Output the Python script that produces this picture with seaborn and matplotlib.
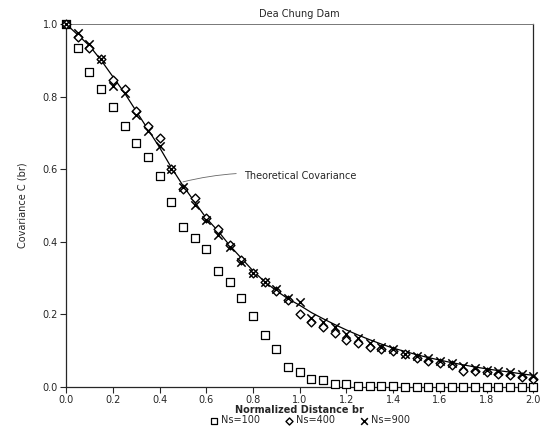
import numpy as np
import pandas as pd
import matplotlib
matplotlib.use("Agg")
import matplotlib.pyplot as plt
import seaborn as sns

distance = [round(0.05 * i, 2) for i in range(41)]

theoretical = [1.0, 0.97, 0.94, 0.90, 0.855, 0.81, 0.76, 0.71, 0.66, 0.605,
               0.555, 0.51, 0.465, 0.43, 0.39, 0.355, 0.32, 0.29, 0.265, 0.243,
               0.225, 0.205, 0.188, 0.172, 0.157, 0.143, 0.130, 0.118, 0.107, 0.098,
               0.089, 0.081, 0.074, 0.067, 0.061, 0.055, 0.050, 0.045, 0.041, 0.036, 0.032]

ns100 = [1.0, 0.935, 0.867, 0.82, 0.77, 0.72, 0.672, 0.633, 0.58, 0.51,
         0.44, 0.41, 0.38, 0.32, 0.29, 0.245, 0.195, 0.143, 0.105, 0.056,
         0.042, 0.022, 0.02, 0.009, 0.008, 0.004, 0.003, 0.002, 0.002, 0.001,
         0.001, 0.001, 0.001, 0.0, 0.0, 0.0, 0.0, 0.0, 0.0, 0.0, 0.0]

ns400 = [1.0, 0.965, 0.935, 0.905, 0.845, 0.82, 0.76, 0.72, 0.685, 0.60,
         0.545, 0.52, 0.465, 0.435, 0.39, 0.35, 0.315, 0.29, 0.265, 0.24,
         0.20, 0.18, 0.165, 0.15, 0.13, 0.12, 0.11, 0.105, 0.10, 0.09,
         0.08, 0.072, 0.065, 0.06, 0.045, 0.045, 0.04, 0.037, 0.033, 0.028, 0.022]

ns900 = [1.0, 0.975, 0.945, 0.905, 0.83, 0.81, 0.75, 0.705, 0.665, 0.60,
         0.55, 0.50, 0.46, 0.42, 0.385, 0.345, 0.315, 0.29, 0.27, 0.245,
         0.235, 0.19, 0.18, 0.165, 0.145, 0.135, 0.12, 0.11, 0.105, 0.09,
         0.085, 0.08, 0.072, 0.065, 0.058, 0.052, 0.048, 0.044, 0.04, 0.035, 0.03]

xticks = [0.0, 0.2, 0.4, 0.6, 0.8, 1.0, 1.2, 1.4, 1.6, 1.8, 2.0]
yticks = [0.0, 0.2, 0.4, 0.6, 0.8, 1.0]

sns.set_style("ticks")
plt.rcParams['font.family'] = ['DejaVu Sans']

fig = plt.figure(figsize=(5.42, 4.29), dpi=100)
ax = fig.add_axes([0.122, 0.098, 0.862, 0.846])

df = pd.DataFrame({"x": distance, "theory": theoretical,
                   "n100": ns100, "n400": ns400, "n900": ns900})

sns.lineplot(data=df, x="x", y="theory", ax=ax, color="black", linewidth=0.9)
sns.scatterplot(data=df, x="x", y="n100", ax=ax, marker="s", s=38,
                facecolors="white", edgecolor="black", linewidth=0.9,
                label="Ns=100", zorder=3, clip_on=False)
sns.scatterplot(data=df, x="x", y="n400", ax=ax, marker="D", s=20,
                facecolors="white", edgecolor="black", linewidth=1.0,
                label="Ns=400", zorder=4, clip_on=False)
sns.scatterplot(data=df, x="x", y="n900", ax=ax, marker="x", s=36,
                color="black", linewidth=1.1, label="Ns=900", zorder=5,
                clip_on=False)

ax.set_xlim(0, 2.0)
ax.set_ylim(0, 1.0)
ax.set_xticks(xticks)
ax.set_yticks(yticks)
ax.set_xticklabels([f"{v:.1f}" for v in xticks], fontsize=7)
ax.set_yticklabels([f"{v:.1f}" for v in yticks], fontsize=7)
ax.tick_params(axis="both", direction="out", length=4, width=0.8, pad=2)

for side in ["top", "right", "left", "bottom"]:
    ax.spines[side].set_visible(True)
    ax.spines[side].set_linewidth(0.9)
ax.spines["top"].set_color("#777777")
ax.spines["top"].set_linewidth(0.7)

ax.set_title("Dea Chung Dam", fontsize=7, pad=5)
ax.set_xlabel("Normalized Distance br", fontsize=7, fontweight="bold", labelpad=0)
ax.set_ylabel("Covariance C (br)", fontsize=7, labelpad=11)

ax.annotate("Theoretical Covariance", xy=(0.50, 0.565), xytext=(0.76, 0.58),
            fontsize=7, va="center", ha="left",
            arrowprops=dict(arrowstyle="-", color="#666666", lw=0.6,
                            shrinkA=3, shrinkB=0,
                            connectionstyle="arc3,rad=0.1"))

leg = ax.legend(loc="center", bbox_to_anchor=(0.52, -0.092), ncol=3,
                frameon=False, fontsize=7, handletextpad=0.1,
                columnspacing=2.4, borderaxespad=0, markerscale=0.8,
                borderpad=0.0, handlelength=1.2)

fig.savefig("out.png", dpi=100)
